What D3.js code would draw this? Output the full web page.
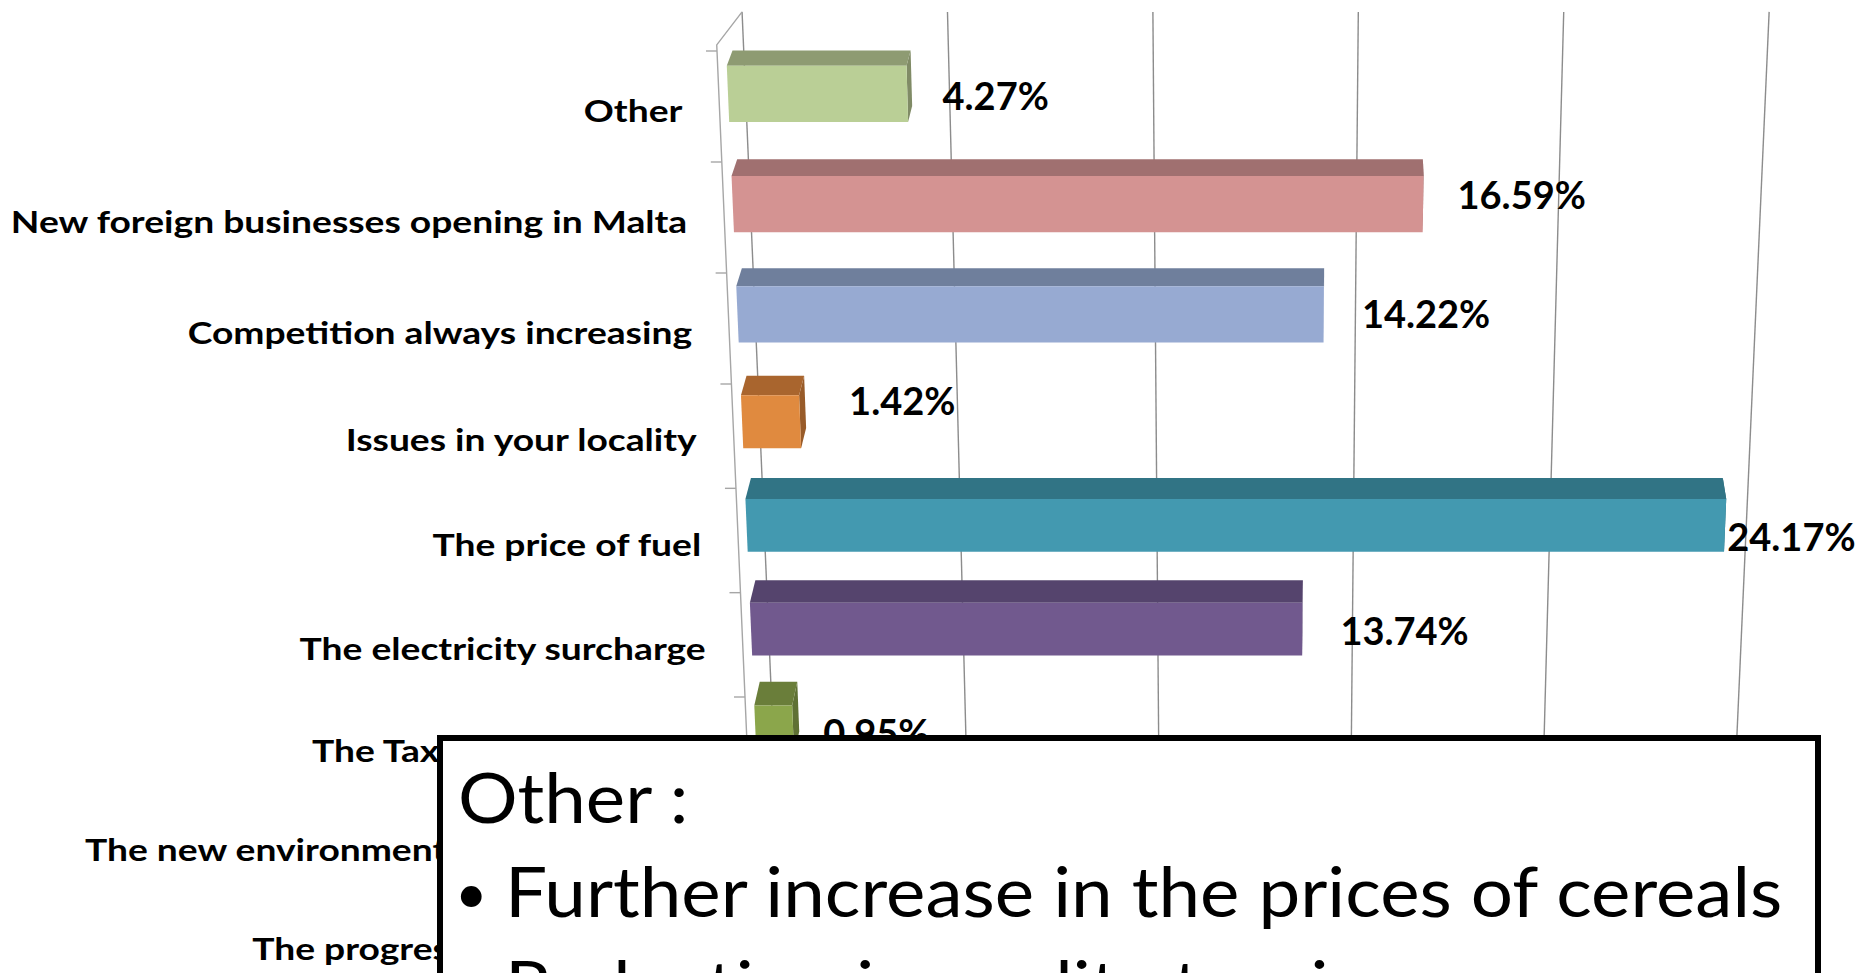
<!DOCTYPE html>
<html>
<head>
<meta charset="utf-8">
<script src="https://cdn.jsdelivr.net/npm/d3@7"></script>
<style>
  html, body { margin: 0; padding: 0; background: #fff; overflow: hidden; }
  text { font-family: Lato, "Open Sans", sans-serif; }
</style>
</head>
<body>
<svg id="chart"></svg>
<script>
// categories from top to bottom, as shown
const categories = [
  'Other',
  'New foreign businesses opening in Malta',
  'Competition always increasing',
  'Issues in your locality',
  'The price of fuel',
  'The electricity surcharge',
  'The Tax on new vehicles',
  'The new environmental levies on food',
  'The progressive tax in Malta'
];
// share of answers, % (last two are hidden behind the note box)
const values = [4.27, 16.59, 14.22, 1.42, 24.17, 13.74, 0.95, 11.37, 13.27];
const frontColors = ['#bacf96', '#d49392', '#97aad2', '#e08a3f', '#4399b0', '#71598e', '#8ba64b', '#c0504d', '#4f81bd'];
const topColors = ['#8e9b72', '#a07070', '#6f7f9c', '#a9652e', '#317485', '#55446d', '#6a7e3a', '#903c3a', '#3b618e'];
const valueTicks = [0, 5, 10, 15, 20, 25];
const boxTitle = 'Other :';
const boxItems = ['Further increase in the prices of cereals', 'Reduction in quality tourism'];

const width = 1874;
const height = 973;

const svg = d3.select('#chart')
  .attr('width', width)
  .attr('height', height);

// one unit per category in "row space"
const row = d3.scaleBand().domain(categories).range([0, categories.length]);
const barBand = d3.scaleBand().domain(categories).range([-0.05, 8.95])
  .paddingInner(0.49).paddingOuter(0.245);

// perspective: rows get a bit shorter going down, front wall leans right,
// and the 0-25% span narrows as we go down
const rowY = d3.scaleLinear().domain([0, 3, 6, 9]).range([51, 384, 697, 995]);
const wallX = d3.scaleLinear().domain([51, 697]).range([717, 745]);
const span = d3.scaleLinear().domain([100, 700]).range([1065, 1012]);
const vp = [1350, -1055];

// depth fractions toward the vanishing point [x, y]
const barFront = [0.014, 0.0062];
const barBack = [0.023, 0.0196];
const wallBack = [0.04, 0.03];
const wallFront = [0, 0];

function pt(v, t, c) {
  const y = rowY(t);
  const x = d3.scaleLinear().domain([0, 25]).range([wallX(y), wallX(y) + span(y)])(v);
  return [x + (vp[0] - x) * c[0], y + (vp[1] - y) * c[1]];
}

const poly = pts => d3.line()(pts) + 'Z';

const tTop = -0.055;
const tBottom = 9.4;

// back wall gridlines
svg.append('g')
  .selectAll('line')
  .data(valueTicks)
  .join('line')
  .attr('x1', d => pt(d, tTop, wallBack)[0])
  .attr('y1', d => pt(d, tTop, wallBack)[1])
  .attr('x2', d => pt(d, tBottom, wallBack)[0])
  .attr('y2', d => pt(d, tBottom, wallBack)[1])
  .attr('stroke', '#8c8c8c')
  .attr('stroke-width', 1.4);

// side wall: front edge and top slant
const wall = svg.append('g')
  .attr('stroke', '#a6a6a6')
  .attr('stroke-width', 1.4)
  .attr('fill', 'none');

wall.append('path')
  .attr('d', d3.line()([
    pt(0, tBottom, wallFront),
    pt(0, tTop, wallFront),
    pt(0, tTop, wallBack)
  ]));

// category ticks on the front edge
wall.selectAll('line')
  .data(d3.range(categories.length + 1))
  .join('line')
  .attr('x1', d => pt(0, d, wallFront)[0])
  .attr('y1', d => pt(0, d, wallFront)[1])
  .attr('x2', d => pt(0, d, wallFront)[0] - 11)
  .attr('y2', d => pt(0, d, wallFront)[1]);

// bars: right side, top, then front face
const bars = svg.append('g')
  .selectAll('g')
  .data(categories)
  .join('g');

bars.each(function(c, i) {
  const g = d3.select(this);
  const v = values[i];
  const t0 = barBand(c);
  const t1 = t0 + barBand.bandwidth();
  const side = d3.color(topColors[i]).darker(0.3);
  g.append('path')
    .attr('d', poly([pt(v, t0, barFront), pt(v, t1, barFront), pt(v, t1, barBack), pt(v, t0, barBack)]))
    .attr('fill', side);
  g.append('path')
    .attr('d', poly([pt(0, t0, barFront), pt(v, t0, barFront), pt(v, t0, barBack), pt(0, t0, barBack)]))
    .attr('fill', topColors[i]);
  g.append('path')
    .attr('d', poly([pt(0, t0, barFront), pt(v, t0, barFront), pt(v, t1, barFront), pt(0, t1, barFront)]))
    .attr('fill', frontColors[i]);
});

// value labels, nudged the way the original sits them
const labelShift = [[0, 3], [-2, -9], [2, 0], [14, -20], [-35, 12], [2, 2], [-5, 3], [0, 0], [0, 0]];
svg.append('g')
  .selectAll('text')
  .data(categories)
  .join('text')
  .attr('x', (c, i) => pt(values[i], barBand(c), barFront)[0] + 36 + labelShift[i][0])
  .attr('y', (c, i) => {
    const a = pt(values[i], barBand(c), barFront)[1];
    const b = pt(values[i], barBand(c) + barBand.bandwidth(), barFront)[1];
    return (a + b) / 2 + labelShift[i][1];
  })
  .attr('dy', '0.36em')
  .attr('font-size', 38)
  .attr('font-weight', 700)
  .attr('fill', '#000')
  .text((c, i) => d3.format('.2f')(values[i]) + '%');

// category labels, right aligned against the wall
svg.append('g')
  .selectAll('text')
  .data(categories)
  .join('text')
  .attr('transform', c => {
    const t = row(c) + row.bandwidth() / 2;
    const p = pt(0, t, wallFront);
    return 'translate(' + (p[0] - 37) + ',' + (p[1] + 4) + ') scale(1.2,1)';
  })
  .attr('text-anchor', 'end')
  .attr('dy', '0.36em')
  .attr('font-size', 31)
  .attr('font-weight', 700)
  .attr('fill', '#000')
  .text(d => d);

// note box on top of the lower part of the chart
const box = svg.append('g');
box.append('rect')
  .attr('x', 440)
  .attr('y', 738)
  .attr('width', 1378)
  .attr('height', 400)
  .attr('fill', '#fff')
  .attr('stroke', '#000')
  .attr('stroke-width', 6);

const boxFont = 70;
const stretch = 'scale(1.065,1)';

box.append('text')
  .attr('transform', 'translate(458,823) ' + stretch)
  .attr('font-size', boxFont)
  .attr('fill', '#000')
  .text(boxTitle);

const items = box.selectAll('g.item')
  .data(boxItems)
  .join('g')
  .attr('class', 'item')
  .attr('transform', (d, i) => 'translate(0,' + (917 + i * 94) + ')');

items.append('text')
  .attr('transform', 'translate(455,-4) scale(0.8)')
  .attr('font-size', boxFont)
  .attr('fill', '#000')
  .text('\u2022');

items.append('text')
  .attr('transform', 'translate(505,0) ' + stretch)
  .attr('font-size', boxFont)
  .attr('fill', '#000')
  .text(d => d);
</script>
</body>
</html>
